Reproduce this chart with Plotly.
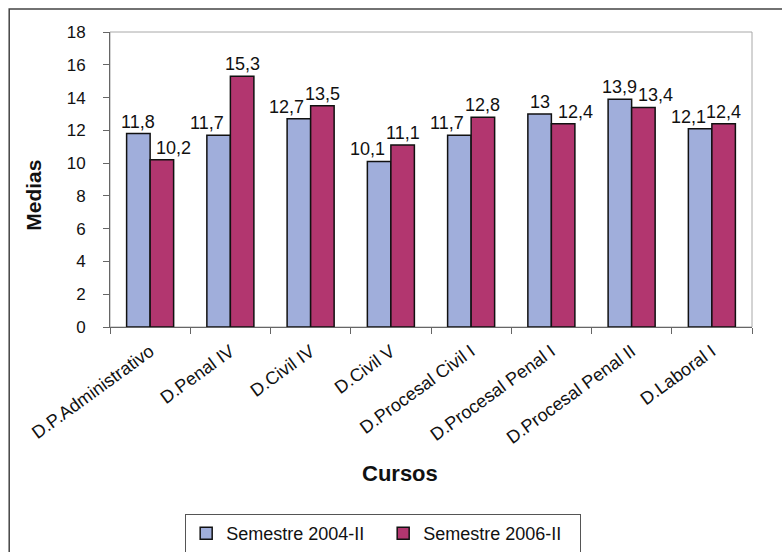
import plotly.graph_objects as go

categories = ["D.P.Administrativo", "D.Penal IV", "D.Civil IV", "D.Civil V",
              "D.Procesal Civil I", "D.Procesal Penal I", "D.Procesal Penal II", "D.Laboral I"]
s2004 = [11.8, 11.7, 12.7, 10.1, 11.7, 13.0, 13.9, 12.1]
s2006 = [10.2, 15.3, 13.5, 11.1, 12.8, 12.4, 13.4, 12.4]
series_names = ["Semestre 2004-II", "Semestre 2006-II"]
y_ticks = [0, 2, 4, 6, 8, 10, 12, 14, 16, 18]

BLUE = "#a0aedb"
RED = "#b2366f"
FONT = "Liberation Sans, Arial, sans-serif"
BARGAP = 0.414

fig = go.Figure()
fig.add_trace(go.Bar(x=categories, y=s2004, name=series_names[0],
                     marker=dict(color=BLUE, line=dict(color="#111", width=1.5))))
fig.add_trace(go.Bar(x=categories, y=s2006, name=series_names[1],
                     marker=dict(color=RED, line=dict(color="#111", width=1.5))))

def fmt(v):
    s = ("%.1f" % v).rstrip("0").rstrip(".")
    return s.replace(".", ",")

off = (1 - BARGAP) / 4
annos = []
for i, (a, b) in enumerate(zip(s2004, s2006)):
    sa = -12 if a < b else 0
    sb = 12 if b < a else 0
    annos.append(dict(x=i - off, y=a, xref="x", yref="y", text=fmt(a), showarrow=False,
                      yanchor="bottom", xshift=sa, yshift=0,
                      font=dict(family=FONT, size=18, color="#111")))
    annos.append(dict(x=i + off, y=b, xref="x", yref="y", text=fmt(b), showarrow=False,
                      yanchor="bottom", xshift=sb, yshift=0,
                      font=dict(family=FONT, size=18, color="#111")))

annos.append(dict(x=0.452, y=-0.495, xref="paper", yref="paper", text="<b>Cursos</b>",
                  xanchor="center", yanchor="middle",
                  showarrow=False, font=dict(family=FONT, size=22, color="#111")))
annos.append(dict(x=-0.119, y=0.447, xref="paper", yref="paper", text="<b>Medias</b>",
                  xanchor="center", yanchor="middle",
                  showarrow=False, textangle=-90, font=dict(family=FONT, size=21, color="#111")))

fig.update_layout(
    width=782, height=552,
    margin=dict(l=110, r=30, t=32, b=225, autoexpand=False),
    barmode="group", bargap=BARGAP, bargroupgap=0,
    plot_bgcolor="white", paper_bgcolor="white",
    font=dict(family=FONT, color="#111"),
    showlegend=True,
    legend=dict(orientation="h", xref="container", yref="container",
                x=0.49, xanchor="center", y=1 - 514 / 552, yanchor="top",
                bordercolor="#555", borderwidth=1, font=dict(family=FONT, size=18),
                entrywidth=152, traceorder="normal"),
    annotations=annos,
    shapes=[
        dict(type="rect", xref="paper", yref="paper", x0=0, y0=0, x1=1, y1=1,
             line=dict(color="#a8a8a8", width=1), layer="below"),
        dict(type="rect", xref="paper", yref="paper", x0=-0.157, y0=-0.85, x1=1.1, y1=1.078,
             line=dict(color="#444", width=1.5)),
    ],
)
fig.update_xaxes(tickangle=-36, tickfont=dict(family=FONT, size=18, color="#111"),
                 ticks="outside", tickson="boundaries", ticklen=6, tickcolor="#666",
                 ticklabelstandoff=6, automargin=False,
                 showline=True, linecolor="#666", linewidth=1, showgrid=False)
fig.update_yaxes(range=[0, 18], tickvals=y_ticks, tickfont=dict(family=FONT, size=17, color="#111"),
                 ticks="outside", ticklen=6, tickcolor="#666", automargin=False,
                 ticklabelstandoff=14,
                 showline=True, linecolor="#666", linewidth=1, showgrid=False, zeroline=False)

fig.write_html("out.html")
